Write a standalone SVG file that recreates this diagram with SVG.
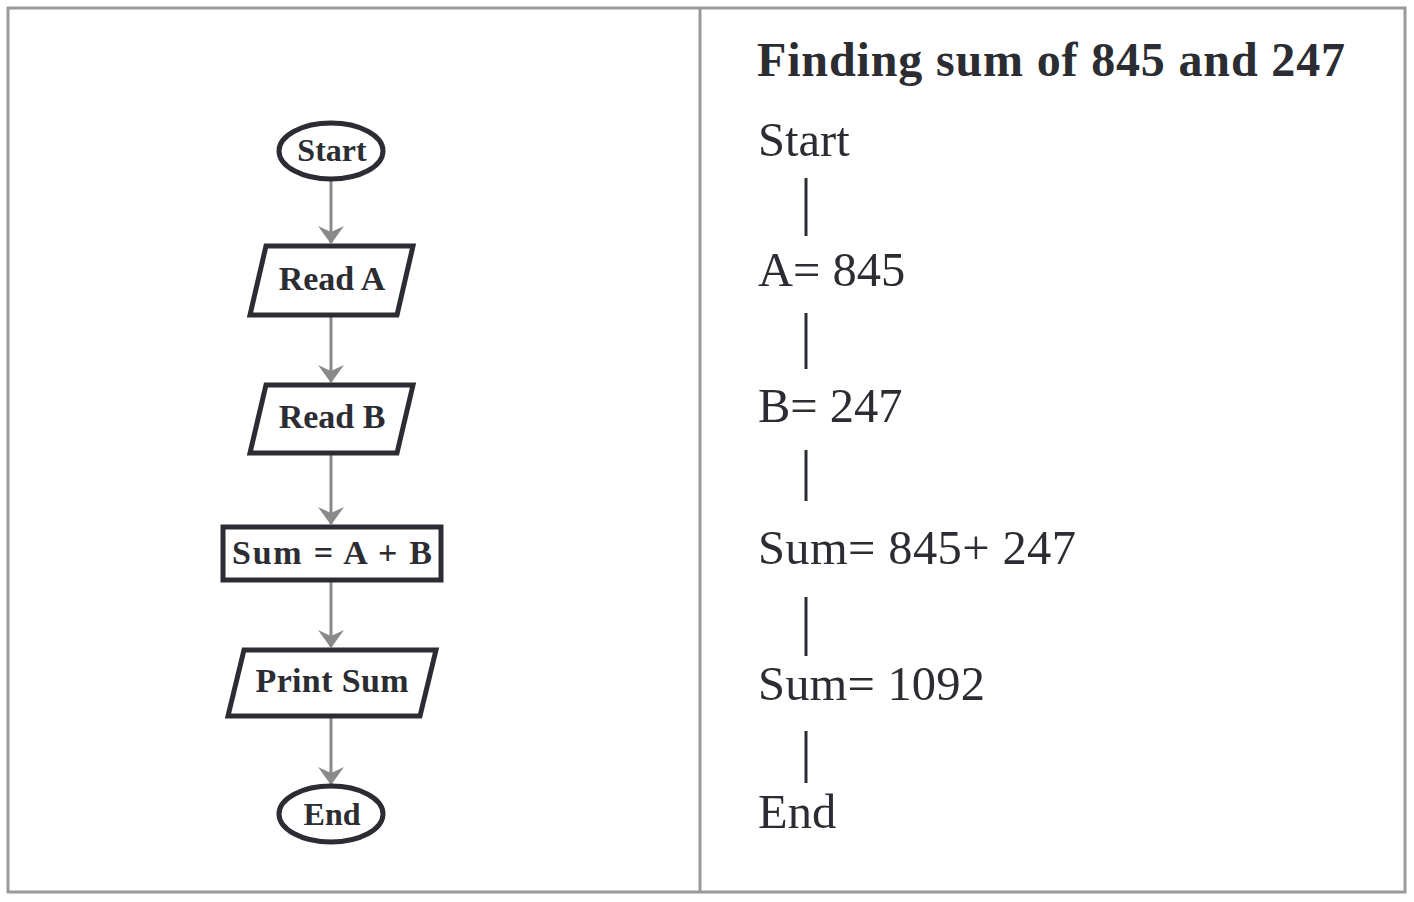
<svg xmlns="http://www.w3.org/2000/svg" width="1414" height="902" viewBox="0 0 1414 902">
<defs>
<style>
.frame{fill:none;stroke:#9a9a9a;stroke-width:3}
.shape{fill:#fff;stroke:#2b2d33;stroke-width:5}
.lbl{font-family:"Liberation Serif",serif;font-weight:bold;font-size:34px;fill:#2b2d33;text-anchor:middle}
.term{font-size:32px}
.conn{stroke:#8a8a8a;stroke-width:3;fill:none}
.txt{font-family:"Liberation Serif",serif;font-size:48.5px;fill:#2b2d33}
.title{font-family:"Liberation Serif",serif;font-weight:bold;font-size:48px;fill:#2b2d33}
.bar{stroke:#2b2d33;stroke-width:3}
</style>
<marker id="arr" markerWidth="26" markerHeight="18" viewBox="0 0 26 18" refX="13" refY="17" orient="0" markerUnits="userSpaceOnUse">
<path d="M0,0 L13,6 L26,0 L13,18 Z" fill="#8a8a8a"/>
</marker>
</defs>
<rect class="frame" x="8" y="8" width="1397" height="884"/>
<line class="frame" x1="700" y1="8" x2="700" y2="892"/>
<g id="connectors">
<line class="conn" x1="331" y1="179" x2="331" y2="243" marker-end="url(#arr)"/>
<line class="conn" x1="331" y1="316" x2="331" y2="382" marker-end="url(#arr)"/>
<line class="conn" x1="331" y1="454" x2="331" y2="524" marker-end="url(#arr)"/>
<line class="conn" x1="331" y1="581" x2="331" y2="647" marker-end="url(#arr)"/>
<line class="conn" x1="331" y1="717" x2="331" y2="784" marker-end="url(#arr)"/>
</g>
<g id="start">
<ellipse class="shape" cx="331" cy="151" rx="52" ry="28"/>
<text class="lbl term" x="332" y="161">Start</text>
</g>
<g id="readA">
<polygon class="shape" points="266,246 413,246 397,315 250,315"/>
<text class="lbl" x="332" y="290">Read A</text>
</g>
<g id="readB">
<polygon class="shape" points="266,385 413,385 397,453 250,453"/>
<text class="lbl" x="332" y="428">Read B</text>
</g>
<g id="sum">
<rect class="shape" x="223" y="527" width="218" height="53"/>
<text class="lbl" x="332" y="564" textLength="200" lengthAdjust="spacing">Sum = A + B</text>
</g>
<g id="print">
<polygon class="shape" points="244,650 436,650 420,716 228,716"/>
<text class="lbl" x="332" y="692" textLength="153" lengthAdjust="spacing">Print Sum</text>
</g>
<g id="end">
<ellipse class="shape" cx="331" cy="814" rx="52" ry="28"/>
<text class="lbl term" x="332" y="825">End</text>
</g>
<g id="steps">
<text class="title" x="757" y="76" textLength="588" lengthAdjust="spacing">Finding sum of 845 and 247</text>
<text class="txt" x="758" y="156">Start</text>
<line class="bar" x1="806" y1="178" x2="806" y2="236"/>
<text class="txt" x="758" y="286">A= 845</text>
<line class="bar" x1="806" y1="313" x2="806" y2="369"/>
<text class="txt" x="758" y="422">B= 247</text>
<line class="bar" x1="806" y1="450" x2="806" y2="501"/>
<text class="txt" x="758" y="564" textLength="318" lengthAdjust="spacing">Sum= 845+ 247</text>
<line class="bar" x1="806" y1="597" x2="806" y2="656"/>
<text class="txt" x="758" y="700" textLength="227" lengthAdjust="spacing">Sum= 1092</text>
<line class="bar" x1="806" y1="731" x2="806" y2="783"/>
<text class="txt" x="758" y="828">End</text>
</g>
</svg>
